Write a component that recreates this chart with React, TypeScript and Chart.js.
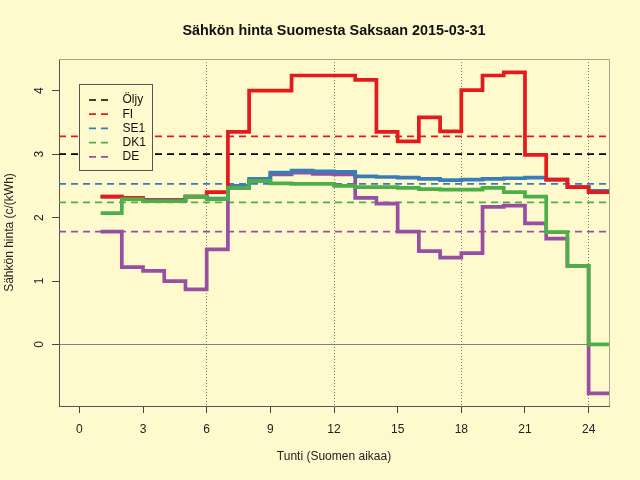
import { useEffect, useRef } from "react";
import { Chart, registerables } from "chart.js";

Chart.register(...registerables);

// Hours of the day (Finnish time), each value holds from h to h+1
const HOURS = [1, 2, 3, 4, 5, 6, 7, 8, 9, 10, 11, 12, 13, 14, 15, 16, 17, 18, 19, 20, 21, 22, 23, 24];

// Prices c/kWh
const FI = [2.33, 2.31, 2.27, 2.27, 2.33, 2.4, 3.35, 4.0, 4.0, 4.24, 4.24, 4.24, 4.17, 3.35, 3.2, 3.58, 3.36, 4.01, 4.24, 4.29, 2.99, 2.6, 2.48, 2.4];
const SE1 = [2.33, 2.31, 2.28, 2.28, 2.33, 2.3, 2.5, 2.61, 2.71, 2.74, 2.73, 2.72, 2.65, 2.64, 2.63, 2.61, 2.59, 2.6, 2.61, 2.62, 2.63, 2.6, 2.48, 2.42];
const DK1 = [2.07, 2.29, 2.26, 2.26, 2.33, 2.29, 2.47, 2.58, 2.54, 2.53, 2.53, 2.5, 2.48, 2.48, 2.47, 2.45, 2.44, 2.44, 2.47, 2.4, 2.33, 1.77, 1.24, 0.0];
const DE = [1.78, 1.22, 1.16, 1.0, 0.87, 1.5, 2.47, 2.58, 2.68, 2.71, 2.69, 2.68, 2.31, 2.22, 1.78, 1.47, 1.37, 1.44, 2.17, 2.19, 1.91, 1.67, 1.24, -0.77];

// Dashed reference levels: Öljy, FI, SE1, DK1, DE
const LEVEL_NAMES = ["Öljy", "FI", "SE1", "DK1", "DE"];
const LEVELS = [3.0, 3.28, 2.53, 2.24, 1.78];
const COLORS = ["#000000", "#E41A1C", "#377EB8", "#4DAF4A", "#984EA3"];

const TITLE = "Sähkön hinta Suomesta Saksaan 2015-03-31";
const X_TICKS = [0, 3, 6, 9, 12, 15, 18, 21, 24];
const Y_TICKS = [0, 1, 2, 3, 4];
const DOTTED_AT = [6, 12, 18, 24];

const X_MIN = -0.96;
const X_MAX = 24.96;
const Y_MIN = -0.97;
const Y_MAX = 4.5;

const BG = "#FFFACD";
const FONT = "'Liberation Sans', Arial, Helvetica, sans-serif";

function toSteps(values: number[]) {
  const pts = HOURS.map((h, i) => ({ x: h, y: values[i] }));
  pts.push({ x: HOURS[HOURS.length - 1] + 1, y: values[values.length - 1] });
  return pts;
}

const background = {
  id: "background",
  beforeDraw(chart: any) {
    const { ctx, width, height } = chart;
    ctx.save();
    ctx.fillStyle = BG;
    ctx.fillRect(0, 0, width, height);
    ctx.restore();
  },
};

const frameAndLegend = {
  id: "frameAndLegend",
  afterDatasetsDraw(chart: any) {
    const { ctx, chartArea } = chart;
    ctx.save();
    // title centred over the plot region
    ctx.fillStyle = "#111";
    ctx.font = `bold 14.4px ${FONT}`;
    ctx.textAlign = "center";
    ctx.textBaseline = "middle";
    ctx.fillText(TITLE, (chartArea.left + chartArea.right) / 2, 31);
    ctx.textAlign = "left";

    // top and right side of the box
    ctx.strokeStyle = "#A8A390";
    ctx.lineWidth = 1;
    ctx.beginPath();
    ctx.moveTo(chartArea.left, chartArea.top + 0.5);
    ctx.lineTo(chartArea.right + 0.5, chartArea.top + 0.5);
    ctx.lineTo(chartArea.right + 0.5, chartArea.bottom);
    ctx.stroke();

    // legend
    const lx = Math.round(chartArea.left + 20) + 0.5;
    const ly = Math.round(chartArea.top + 25) + 0.5;
    ctx.fillStyle = BG;
    ctx.fillRect(lx, ly, 73, 86);
    ctx.strokeStyle = "#555";
    ctx.strokeRect(lx, ly, 73, 86);
    ctx.font = `12px ${FONT}`;
    ctx.textBaseline = "middle";
    LEVEL_NAMES.forEach((name, i) => {
      const y = ly + 15.5 + i * 14.2;
      ctx.strokeStyle = COLORS[i];
      ctx.lineWidth = 1.7;
      ctx.setLineDash([7, 5]);
      ctx.beginPath();
      ctx.moveTo(lx + 9.5, y);
      ctx.lineTo(lx + 29, y);
      ctx.stroke();
      ctx.setLineDash([]);
      ctx.fillStyle = "#111";
      ctx.fillText(name, lx + 43, y);
    });
    ctx.restore();
  },
};

export default function App() {
  const canvasRef = useRef<HTMLCanvasElement>(null);
  const chartRef = useRef<Chart | null>(null);

  useEffect(() => {
    const canvas = canvasRef.current;
    if (!canvas) return;
    if (chartRef.current) chartRef.current.destroy();

    Chart.defaults.font.family = FONT;

    const levelSets = LEVELS.map((v, i) => ({
      label: LEVEL_NAMES[i] + " keskiarvo",
      data: [
        { x: X_MIN, y: v },
        { x: X_MAX, y: v },
      ],
      borderColor: COLORS[i],
      borderWidth: 1.7,
      borderDash: [7, 5],
      pointRadius: 0,
      order: 10,
      clip: 0,
    }));

    const step = (label: string, values: number[], color: string, order: number) => ({
      label,
      data: toSteps(values),
      borderColor: color,
      borderWidth: 3.7,
      stepped: "before" as const,
      pointRadius: 0,
      order,
      clip: 0,
    });

    chartRef.current = new Chart(canvas, {
      type: "line",
      data: {
        datasets: [
          ...levelSets,
          step("DE", DE, COLORS[4], 4),
          step("SE1", SE1, COLORS[2], 3),
          step("FI", FI, COLORS[1], 2),
          step("DK1", DK1, COLORS[3], 1),
        ],
      },
      options: {
        responsive: false,
        animation: false,
        layout: { padding: { left: 0, right: 31, top: 59, bottom: 0 } },
        plugins: {
          legend: { display: false },
          tooltip: { enabled: false },
          title: { display: false },
        },
        scales: {
          x: {
            type: "linear",
            min: X_MIN,
            max: X_MAX,
            afterBuildTicks: (s: any) => {
              s.ticks = X_TICKS.map((v) => ({ value: v }));
            },
            afterFit: (s: any) => {
              s.height = 74;
            },
            grid: {
              color: (c: any) => (c.tick && DOTTED_AT.includes(c.tick.value) ? "#7A7A7A" : "rgba(0,0,0,0)"),
              lineWidth: 1,
              tickLength: 7,
              tickColor: "#444",
              tickBorderDash: [],
            },
            border: { display: true, color: "#555", width: 1, dash: [1, 2] },
            ticks: {
              color: "#222",
              font: { size: 12 },
              padding: 9,
              maxRotation: 0,
              autoSkip: false,
              callback: (v: any) => String(v),
            },
            title: {
              display: true,
              text: "Tunti (Suomen aikaa)",
              color: "#222",
              font: { size: 12 },
              padding: { top: 0, bottom: 16 },
            },
          },
          y: {
            min: Y_MIN,
            max: Y_MAX,
            afterBuildTicks: (s: any) => {
              s.ticks = Y_TICKS.map((v) => ({ value: v }));
            },
            afterFit: (s: any) => {
              s.width = 59;
            },
            grid: {
              color: (c: any) => (c.tick && c.tick.value === 0 ? "#808080" : "rgba(0,0,0,0)"),
              lineWidth: 1,
              tickLength: 7,
              tickColor: "#444",
            },
            border: { display: true, color: "#555", width: 1 },
            ticks: {
              color: "#222",
              font: { size: 12 },
              padding: 9,
              minRotation: 90,
              maxRotation: 90,
              crossAlign: "center",
              callback: (v: any) => String(v),
            },
            title: {
              display: true,
              text: "Sähkön hinta (c/(kWh)",
              color: "#222",
              font: { size: 12 },
              padding: { top: 2, bottom: 0 },
            },
          },
        },
      },
      plugins: [background, frameAndLegend],
    } as any);

    return () => {
      if (chartRef.current) {
        chartRef.current.destroy();
        chartRef.current = null;
      }
    };
  }, []);

  return (
    <div style={{ position: "absolute", left: 0, top: 0, width: 640, height: 480, background: BG }}>
      <canvas ref={canvasRef} width={640} height={480} style={{ width: 640, height: 480 }} />
    </div>
  );
}
